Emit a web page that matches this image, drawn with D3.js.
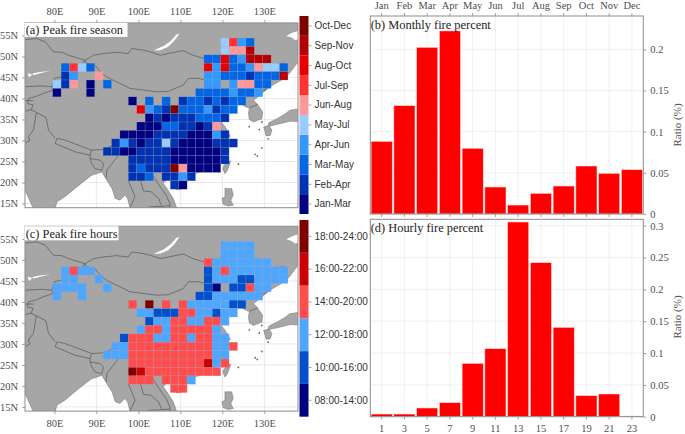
<!DOCTYPE html>
<html>
<head>
<meta charset="utf-8">
<script src="https://cdn.jsdelivr.net/npm/d3@7/dist/d3.min.js"></script>
<style>
  html, body { margin: 0; padding: 0; background: #fff; }
  svg { display: block; }
</style>
</head>
<body>
<div id="container"></div>
<script>
// ---------------------------------------------------------------------------
// Data
// ---------------------------------------------------------------------------
const months = ['Jan', 'Feb', 'Mar', 'Apr', 'May', 'Jun', 'Jul', 'Aug', 'Sep', 'Oct', 'Nov', 'Dec'];
const monthlyRatio = [0.0883, 0.1316, 0.2025, 0.2224, 0.0798, 0.0328, 0.0109, 0.0251, 0.034, 0.0583, 0.0494, 0.0538];

const hours = [1, 3, 5, 7, 9, 11, 13, 15, 17, 19, 21, 23];
const hourlyRatio = [0.0042, 0.0042, 0.0137, 0.022, 0.0838, 0.1068, 0.3058, 0.2419, 0.1404, 0.033, 0.0357, 0.0011];

const monthlyTicks = [0, 0.05, 0.1, 0.15, 0.2];
const hourlyTicks = [0, 0.05, 0.1, 0.15, 0.2, 0.25, 0.3];
const lonTicks = [80, 90, 100, 110, 120, 130];
const latTicks = [15, 20, 25, 30, 35, 40, 45, 50, 55];

const seasonLabels = ['Jan-Mar', 'Feb-Apr', 'Mar-May', 'Apr-Jun', 'May-Jul', 'Jun-Aug', 'Jul-Sep', 'Aug-Oct', 'Sep-Nov', 'Oct-Dec'];
const seasonColors = ['#000080', '#0033b3', '#0066e6', '#3399ff', '#99ccff', '#ff9999', '#ff3333', '#e60000', '#b30000', '#7f0000'];
const hourLabels = ['08:00-14:00', '10:00-16:00', '12:00-18:00', '14:00-20:00', '16:00-22:00', '18:00-24:00'];
const hourColors = ['#000080', '#0050cc', '#4da6ff', '#ff4d4d', '#cc0000', '#800000'];

// grid cells: one string per row (north to south), one char per 2 degree column
const seasonCells = [
  '....................4632....',
  '....................4558....',
  '..................22723888..',
  '.2642.............7372235442',
  '.13..5............3322212228',
  '415.0.2...........33.35522..',
  '0...0............22223223...',
  '.........0.2.2.12212122.....',
  '..........732192223122......',
  '...........0101112221.......',
  '..........0002211015........',
  '........0000111100031.......',
  '.......131011410000111......',
  '......110011110000001.......',
  '.........111110000001.......',
  '.........12111950000........',
  '.........112.1131...........',
  '..............10............',
];
const hourCells = [
  '....................2222....',
  '....................2222....',
  '..................32222222..',
  '.2322.............1232222222',
  '.22..2............1222112222',
  '2222..2...........10.11322..',
  '2..2.............11222222...',
  '.........3.5.3.32222211.....',
  '..........221113322122......',
  '...........1223322332.......',
  '..........2332333332........',
  '........1333223323322.......',
  '.......223333333333223......',
  '......222333333333322.......',
  '.........333333333423.......',
  '.........54333333333........',
  '.........333.3332...........',
  '..............33............',
];
const cellWest = 79.6;   // west edge of the first column
const cellNorth = 54.4;  // north edge of the first row
const cellStep = 2;

// ---------------------------------------------------------------------------
// Base map, [lon, lat]
// ---------------------------------------------------------------------------
const mainland = [
  [72, 59], [72, 18.2], [73, 18.2], [74.9, 14], [75.3, 13], [80.1, 13], [80.2, 13.8], [80.6, 15.4], [82.5, 16.6],
  [84.9, 18.6], [87.3, 20.5], [88.9, 21.7], [91.3, 22.5], [92.5, 20.5], [93.7, 18.6], [94.5, 16.2], [95.6, 15.8],
  [96.8, 17], [97.4, 16.2], [98, 14], [98, 13], [109.1, 13], [109.1, 14], [108.3, 16.2], [106.8, 18.6], [105.9, 19.8],
  [106.8, 20.7], [108, 21.5], [109.6, 21.5], [110.3, 20.4], [110.6, 21.2], [112, 21.8], [114, 22.3], [116, 23],
  [117.5, 24], [118.7, 25], [119.7, 26], [120, 27.2], [121, 28.5], [121.8, 29.8], [120.8, 30.5], [121.9, 31],
  [121.4, 32], [120.5, 33.5], [119.3, 34.8], [120.3, 36], [122.5, 37], [120.8, 37.7], [119, 37.2], [118, 38.2],
  [118, 39], [119.5, 39.8], [121, 40.8], [122, 40.6], [121.3, 39], [122.8, 39.5], [124.3, 40], [125.2, 39.5],
  [125, 38.3], [126.4, 37.7], [126.2, 36.4], [126.4, 35], [127.4, 34.4], [129.4, 35.2], [129.6, 36.8], [128.2, 38.8],
  [127.4, 39.6], [129, 40.8], [130.6, 42.2], [132, 43.2], [134.1, 44.4], [136, 46], [138, 48.7], [139, 48.7], [139, 59],
];
const islands = [
  [[108.7, 19.4], [110, 20.1], [111, 19.6], [110.2, 18.4], [109, 18.3]],                         // Hainan
  [[120.1, 23.3], [120.6, 22.1], [121.2, 22.9], [122, 25.1], [121.4, 25.1], [120.4, 24.1]],      // Taiwan
  [[120.6, 18.6], [122.2, 18.6], [122.6, 17], [122, 15.8], [122.6, 14.6], [121.4, 14.4], [120.2, 14.8], [119.9, 16.2], [120.6, 16.6]], // Luzon
  [[129.8, 33.2], [131, 33.6], [131.8, 32.5], [131.4, 31.2], [130.4, 31.1], [130.2, 32]],        // Kyushu
  [[131, 34.2], [133, 35.2], [134.9, 36.3], [136, 37.2], [138, 37.5], [139, 37.5], [139, 34.4], [138, 34.5], [136.1, 34.6], [134.1, 34.1], [132.5, 33.7], [131, 33.4]], // Honshu
];
const smallIslands = [[126.4, 33.3], [128.8, 32.6], [130.9, 30.4], [129.4, 28.2], [128.3, 26.3], [127.8, 26.7], [123.8, 24.4], [129.4, 34.4]];
const waters = [
  [[103.8, 51.4], [105.2, 51.5], [107.1, 52.3], [108.7, 53.9], [109.8, 55.5], [109, 55.2], [107.7, 53.7], [106, 52.5], [104.2, 51.7]], // Baikal
  [[73.6, 46], [74, 45], [75, 46], [76.6, 46.3], [79.1, 46.6], [76.6, 46], [75.2, 45.6]],        // Balkhash
  [[139, 56.4], [136.5, 55.6], [135.2, 54.9], [136.5, 54.5], [137.3, 53.9], [139, 54.3]],        // Okhotsk
];
const borders = [
  // Kazakhstan - Russia - Mongolia north
  [[73, 54], [75.8, 54.3], [77.8, 53.5], [79.8, 51.1], [81.8, 51], [83.3, 50.3], [87.3, 49.1], [89.3, 50.3], [91.7, 50.7],
   [94.9, 51], [97.6, 50.7], [98.4, 51.9], [101.2, 51.5], [102.8, 51.1], [105.2, 50.3], [107.1, 50.7], [110.7, 51.4],
   [113, 50.3], [115.7, 49.5], [117.8, 49.5], [119.5, 50.3], [120.5, 52.5], [120, 53.2], [123, 53.5], [126, 52.8],
   [127.5, 50], [131, 48], [134.7, 48.4], [133, 45], [131, 45], [131, 42.6]],
  // Mongolia south
  [[87.3, 49.1], [87.3, 48.5], [89.7, 47.9], [90.9, 46.3], [92.5, 45.1], [95.6, 43.6], [98, 42.4], [101.2, 42], [104.4, 41.6],
   [107.1, 41.7], [110.7, 43.2], [111.9, 44.8], [114.3, 44.8], [115.7, 44.4], [117.5, 46.3], [119.9, 46.7], [118, 48], [116, 48], [117.8, 49.5]],
  // Kazakhstan - China, Kyrgyz
  [[87.3, 49.1], [85.5, 47.2], [83, 47.2], [82.3, 45.3], [80, 44.8], [79.4, 42.8]],
  [[73, 42.8], [77, 43], [79.4, 42.8], [79.6, 42], [77.4, 41.2], [75.4, 40.4], [73.8, 40], [73.6, 38.8], [74.9, 38.5], [74.5, 37.3],
   [75.7, 36.7], [78, 35.5], [78.6, 32.5], [80.2, 30.5]],
  [[73, 39.5], [75, 39.5]],
  [[73, 37], [74.5, 37.3]],
  // Nepal, west India
  [[80.6, 30.5], [82.5, 30.1], [88.9, 27.7], [88.5, 26.5], [84.9, 27.3], [80.2, 29.3], [80.6, 30.5]],
  [[75.7, 36.7], [75, 32.5], [73.8, 30.9], [74.2, 30], [73, 29.4]],
  // Bhutan / Arunachal / Bangladesh / Myanmar
  [[88.9, 27.7], [92, 27.9], [94.5, 29.2], [97.3, 28.2]],
  [[88.5, 26.5], [88.5, 25.7], [88.9, 24.5], [89.7, 23.3], [91.3, 22.9], [91.7, 24.5], [90.9, 25.3], [88.5, 25.7]],
  [[92.3, 21], [92.5, 23], [93.3, 24], [94.5, 25.5], [96, 27.5], [97.5, 28.5]],
  [[98.4, 25], [97.6, 23.5], [99, 22], [100.5, 21.5], [101.7, 21.2], [103, 22.5], [105.5, 23.2], [107.8, 21.6]],
  [[97.6, 20.5], [98.4, 18.6], [99.2, 16.6], [98, 14]],
  [[100.5, 21.5], [100.5, 20.5], [101.2, 18], [103, 17.8], [104.8, 16.2], [105.5, 14.5]],
  [[103, 22.5], [104.5, 20], [106.6, 17], [107.5, 15], [107.5, 13.5]],
  [[102.5, 13.5], [102.5, 14.2], [105.5, 14.3], [107.5, 14.5]],
  // Korea
  [[124.4, 40], [126, 41.5], [128, 41.5], [130.6, 42.2]],
  [[126.5, 37.8], [128.4, 38.6]],
];

// ---------------------------------------------------------------------------
// Canvas
// ---------------------------------------------------------------------------
const W = 685;
const H = 434;
const serif = 'Liberation Serif, Times New Roman, serif';
const sans = 'Liberation Sans, Arial, sans-serif';
const axisGrey = '#8c8c8c';
const labelGrey = '#4d4d4d';

const svg = d3.select('#container').append('svg').attr('width', W).attr('height', H);

// ---------------------------------------------------------------------------
// Helpers
// ---------------------------------------------------------------------------
function styleAxis(g, fontFamily, fontSize, color) {
  g.select('.domain').remove();
  g.selectAll('line').attr('stroke', axisGrey).attr('stroke-width', 0.8);
  g.selectAll('text').attr('font-family', fontFamily).attr('font-size', fontSize).attr('fill', color);
}

function drawMap(opts) {
  const x = d3.scaleLinear().domain([73, 138]).range([25, 298]);
  const y = d3.scaleLinear().domain([14, 58]).range([opts.bottom, opts.bottom - 184.8]);
  const top = y(58);
  const clipId = 'clip-' + opts.id;

  svg.append('clipPath').attr('id', clipId).append('rect')
    .attr('x', 25).attr('y', top).attr('width', 273).attr('height', 184.8);

  const map = svg.append('g').attr('clip-path', `url(#${clipId})`);
  const line = d3.line().x((d) => x(d[0])).y((d) => y(d[1]));

  // gridlines sit on the white sea, under the land
  map.selectAll('.glon').data(lonTicks).join('line')
    .attr('x1', (d) => x(d)).attr('x2', (d) => x(d)).attr('y1', top).attr('y2', opts.bottom)
    .attr('stroke', '#e3e3e3').attr('stroke-width', 0.8);
  map.selectAll('.glat').data(latTicks).join('line')
    .attr('x1', 25).attr('x2', 298).attr('y1', (d) => y(d)).attr('y2', (d) => y(d))
    .attr('stroke', '#e3e3e3').attr('stroke-width', 0.8);

  // land
  map.selectAll('.land').data([mainland].concat(islands)).join('path')
    .attr('d', (d) => line(d) + 'Z')
    .attr('fill', '#a6a6a6').attr('stroke', '#5a5a5a').attr('stroke-width', 0.4);
  map.selectAll('.islet').data(smallIslands).join('circle')
    .attr('cx', (d) => x(d[0])).attr('cy', (d) => y(d[1])).attr('r', 0.9)
    .attr('fill', '#6a6a6a');
  map.selectAll('.water').data(waters).join('path')
    .attr('d', (d) => line(d) + 'Z')
    .attr('fill', '#fff');
  map.selectAll('.border').data(borders).join('path')
    .attr('d', (d) => line(d))
    .attr('fill', 'none').attr('stroke', '#4a4a4a').attr('stroke-width', 0.6);

  // grid cells
  opts.cells.forEach((row, r) => {
    row.split('').forEach((code, c) => {
      if (code === '.') return;
      const west = cellWest + c * cellStep;
      const north = cellNorth - r * cellStep;
      map.append('rect')
        .attr('x', x(west)).attr('y', y(north))
        .attr('width', x(west + cellStep) - x(west))
        .attr('height', y(north - cellStep) - y(north))
        .attr('fill', opts.colors[+code])
        .attr('stroke', 'rgba(170,170,190,0.4)').attr('stroke-width', 0.5);
    });
  });

  // frame
  svg.append('rect').attr('x', 25).attr('y', top).attr('width', 273).attr('height', 184.8)
    .attr('fill', 'none').attr('stroke', axisGrey).attr('stroke-width', 1);

  // axes
  const xAxis = opts.xOnTop ? d3.axisTop(x) : d3.axisBottom(x);
  svg.append('g')
    .attr('transform', `translate(0,${opts.xOnTop ? top : opts.bottom})`)
    .call(xAxis.tickValues(lonTicks).tickSize(3).tickPadding(5).tickFormat((d) => d + 'E'))
    .call(styleAxis, serif, 10.5, labelGrey);
  svg.append('g')
    .attr('transform', 'translate(25,0)')
    .call(d3.axisLeft(y).tickValues(latTicks).tickSize(3).tickPadding(4).tickFormat((d) => d + 'N'))
    .call(styleAxis, serif, 10.5, labelGrey);

  // panel title on its white box
  svg.append('rect').attr('x', 24.5).attr('y', top).attr('width', opts.titleW).attr('height', 14).attr('fill', '#fff');
  svg.append('text').attr('x', 25.7).attr('y', top + 11.5)
    .attr('font-family', serif).attr('font-size', 12.4).attr('fill', '#222')
    .text(opts.title);
}

function drawColorbar(opts) {
  const y = d3.scaleBand().domain(opts.labels).range([opts.bottom, opts.top]);
  const g = svg.append('g');
  g.selectAll('rect').data(opts.labels).join('rect')
    .attr('x', 299.5).attr('y', (d) => y(d)).attr('width', 9).attr('height', y.bandwidth())
    .attr('fill', (d, i) => opts.colors[i]);
  svg.append('g')
    .attr('transform', 'translate(308.5,0)')
    .call(d3.axisRight(y).tickSize(3).tickPadding(3))
    .call(styleAxis, sans, 10, '#333');
}

function drawBars(opts) {
  const x = d3.scaleBand().domain(opts.categories).range([370.3, 643.3]);
  const y = d3.scaleLinear().domain([0, opts.yMax]).range([opts.bottom, opts.top]);
  const g = svg.append('g');

  // pale grid
  g.selectAll('.gx').data(opts.categories).join('line')
    .attr('x1', (d) => x(d) + x.bandwidth() / 2).attr('x2', (d) => x(d) + x.bandwidth() / 2)
    .attr('y1', opts.top).attr('y2', opts.bottom)
    .attr('stroke', '#ececec').attr('stroke-width', 0.8);
  g.selectAll('.gy').data(opts.ticks).join('line')
    .attr('x1', 370.3).attr('x2', 643.3).attr('y1', (d) => y(d)).attr('y2', (d) => y(d))
    .attr('stroke', '#ececec').attr('stroke-width', 0.8);

  // bars
  g.selectAll('.bar').data(opts.values).join('rect')
    .attr('x', (d, i) => x(opts.categories[i]) + 0.8)
    .attr('y', (d) => y(d))
    .attr('width', x.bandwidth() - 1.6)
    .attr('height', (d) => opts.bottom - y(d))
    .attr('fill', '#ff0000')
    .attr('stroke', '#ffd9d9').attr('stroke-width', 0.6);

  // frame
  svg.append('rect').attr('x', 370.3).attr('y', opts.top).attr('width', 273).attr('height', opts.bottom - opts.top)
    .attr('fill', 'none').attr('stroke', axisGrey).attr('stroke-width', 1);

  // axes
  svg.append('g')
    .attr('transform', `translate(643.3,0)`)
    .call(d3.axisRight(y).tickValues(opts.ticks).tickSize(3).tickPadding(4).tickFormat((d) => String(d)))
    .call(styleAxis, serif, 10.5, labelGrey);
  if (opts.xOnTop) {
    svg.append('g').attr('transform', `translate(0,${opts.top})`)
      .call(d3.axisTop(x).tickSize(3).tickPadding(4.5))
      .call(styleAxis, serif, 10.5, labelGrey);
    // tick marks without labels under the panel
    svg.append('g').attr('transform', `translate(0,${opts.bottom})`)
      .call(d3.axisBottom(x).tickSize(3).tickFormat(''))
      .call(styleAxis, serif, 10.5, labelGrey);
  } else {
    svg.append('g').attr('transform', `translate(0,${opts.bottom})`)
      .call(d3.axisBottom(x).tickSize(3).tickPadding(4.5))
      .call(styleAxis, serif, 10.5, labelGrey);
  }

  // title and y label
  svg.append('text').attr('x', 370.7).attr('y', opts.top + 13)
    .attr('font-family', serif).attr('font-size', 12.4).attr('fill', '#222')
    .text(opts.title);
  svg.append('text')
    .attr('transform', `translate(681,${opts.labelY}) rotate(-90)`)
    .attr('text-anchor', 'middle')
    .attr('font-family', serif).attr('font-size', 11).attr('fill', labelGrey)
    .text('Ratio (%)');
}

// ---------------------------------------------------------------------------
// Panels
// ---------------------------------------------------------------------------
drawMap({ id: 'a', bottom: 207.7, cells: seasonCells, colors: seasonColors, title: '(a) Peak fire season', titleW: 103, xOnTop: true });
drawMap({ id: 'c', bottom: 411.1, cells: hourCells, colors: hourColors, title: '(c) Peak fire hours', titleW: 94, xOnTop: false });

drawColorbar({ labels: seasonLabels, colors: seasonColors, top: 16, bottom: 214 });
drawColorbar({ labels: hourLabels, colors: hourColors, top: 220, bottom: 416.7 });

drawBars({ categories: months, values: monthlyRatio, ticks: monthlyTicks, yMax: 0.2405, top: 16, bottom: 214, title: '(b) Monthly fire percent', labelY: 125, xOnTop: true });
drawBars({ categories: hours, values: hourlyRatio, ticks: hourlyTicks, yMax: 0.31, top: 219.3, bottom: 416.7, title: '(d) Hourly fire percent', labelY: 317, xOnTop: false });
</script>
</body>
</html>
